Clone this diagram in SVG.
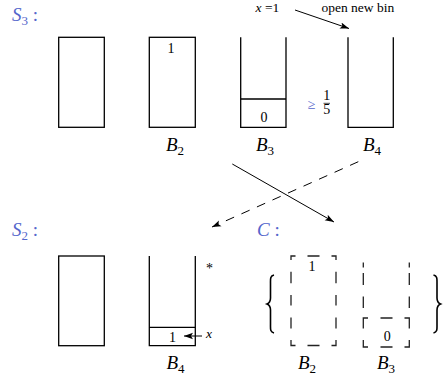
<svg xmlns="http://www.w3.org/2000/svg" width="447" height="375" viewBox="0 0 447 375">
<style>
.bin{fill:none;stroke:#000;stroke-width:1.3}
.dash{fill:none;stroke:#222;stroke-width:1.3}
.arr{fill:none;stroke:#000;stroke-width:1}
text{font-family:'Liberation Serif','DejaVu Serif',serif}
.lbl{font-style:italic;font-size:19px;fill:#000}
.sub{font-size:13px;font-style:normal}
.num{font-size:14px;fill:#000;text-anchor:middle}
.txt{font-size:13.5px;fill:#000}
.blue{fill:#5566cc}
</style>
<defs>
<marker id="ah" markerWidth="10" markerHeight="8" refX="9" refY="4" orient="auto" markerUnits="userSpaceOnUse">
<path d="M0,0.8 L9,4 L0,7.2 L2,4 Z" fill="#000"/>
</marker>
</defs>
<rect width="447" height="375" fill="#fff"/>

<g id="S3-label"><text class="lbl blue" x="12" y="21">S<tspan class="sub" dy="4">3</tspan><tspan dy="-4" font-style="normal"> :</tspan></text></g>

<g id="S3-B1"><rect class="bin" x="58.7" y="37.3" width="45.6" height="90"/></g>
<g id="S3-B2"><rect class="bin" x="149.3" y="37.3" width="46" height="90"/>
<text class="num" x="171" y="53">1</text>
<text class="lbl" x="166" y="151">B<tspan class="sub" dy="4">2</tspan></text></g>
<g id="S3-B3"><path class="bin" d="M240.7,37.3 V127.3 H286 V37.3 M240.7,99 H286"/>
<text class="num" x="264" y="121.5">0</text>
<text class="lbl" x="256" y="151">B<tspan class="sub" dy="4">3</tspan></text></g>
<g id="S3-geq"><text class="num blue" x="311.5" y="109" font-size="18">≥</text>
<text class="num" x="326.7" y="100" font-size="9.5">1</text>
<line x1="323.5" y1="103.3" x2="330" y2="103.3" stroke="#000" stroke-width="0.7"/>
<text class="num" x="326.7" y="114" font-size="9.5">5</text></g>
<g id="S3-B4"><path class="bin" d="M348,37.3 V127.3 H393.3 V37.3"/>
<text class="lbl" x="363" y="151">B<tspan class="sub" dy="4">4</tspan></text></g>
<g id="top-labels"><text class="txt" x="255.5" y="11.5"><tspan font-style="italic">x</tspan> =1</text>
<text class="txt" x="321.5" y="11.5">open new bin</text></g>

<g id="S2-label"><text class="lbl blue" x="12" y="236">S<tspan class="sub" dy="4">2</tspan><tspan dy="-4" font-style="normal"> :</tspan></text></g>
<g id="S2-B1"><rect class="bin" x="58.7" y="256" width="45.6" height="89.7"/></g>
<g id="S2-B4"><path class="bin" d="M149.3,256 V345.7 H195.3 V256 M149.3,327.3 H195.3"/>
<text class="num" x="172.5" y="341.5">1</text>
<text class="num" x="209.5" y="273">*</text>
<text class="txt" x="206" y="338" font-size="12" font-style="italic">x</text>
<text class="lbl" x="166.5" y="369">B<tspan class="sub" dy="4">4</tspan></text></g>

<g id="C-label"><text class="lbl blue" x="257" y="236">C<tspan font-style="normal"> :</tspan></text></g>
<g id="C-braces">
<path d="M274,275 C270,276 270.5,279 270.5,283 V298 C270.5,301 269.5,303 267,304 C269.5,305 270.5,307 270.5,310 V325 C270.5,329 270,332 274,333" fill="none" stroke="#000" stroke-width="1.6"/>
<path d="M433.5,275 C437.5,276 437,279 437,283 V298 C437,301 438,303 440.5,304 C438,305 437,307 437,310 V325 C437,329 437.5,332 433.5,333" fill="none" stroke="#000" stroke-width="1.6"/>
</g>
<g id="C-B2">
<path class="dash" d="M295.5,256 H291 V260 M291,271.7 V283.3 M291,295 V305.5 M291,317.5 V328.5 M291,340 V345.5 H295.5 M307.5,256 H319.5 M331.5,256 H336 V260 M336,271.7 V283.3 M336,295 V305.5 M336,317.5 V328.5 M336,340 V345.5 H331.5 M307.5,345.5 H319.5"/>
<text class="num" x="312" y="270.5">1</text>
<text class="lbl" x="298" y="369">B<tspan class="sub" dy="4">2</tspan></text></g>
<g id="C-B3">
<path class="dash" d="M363.3,262.5 V267.5 M363.3,273 V285 M363.3,296.5 V308 M368,318 H363.3 V328.5 M363.3,340 V347 H368 M380.5,318 H392.5 M380.5,347 H392.5 M404.5,318 H409.3 V328.5 M409.3,340 V347 H404.5 M409.3,262.5 V267.5 M409.3,273 V285 M409.3,296.5 V308"/>
<text class="num" x="387.3" y="341">0</text>
<text class="lbl" x="377" y="369">B<tspan class="sub" dy="4">3</tspan></text></g>

<g id="connectors">
<line class="arr" x1="295" y1="10" x2="349" y2="28.5" marker-end="url(#ah)"/>
<line class="arr" x1="232.3" y1="164" x2="334" y2="222" marker-end="url(#ah)"/>
<line class="arr" x1="358.3" y1="161.7" x2="212" y2="227" stroke-dasharray="9 8" marker-end="url(#ah)"/>
<line class="arr" x1="202" y1="336" x2="184" y2="336" marker-end="url(#ah)"/>
</g>
</svg>
